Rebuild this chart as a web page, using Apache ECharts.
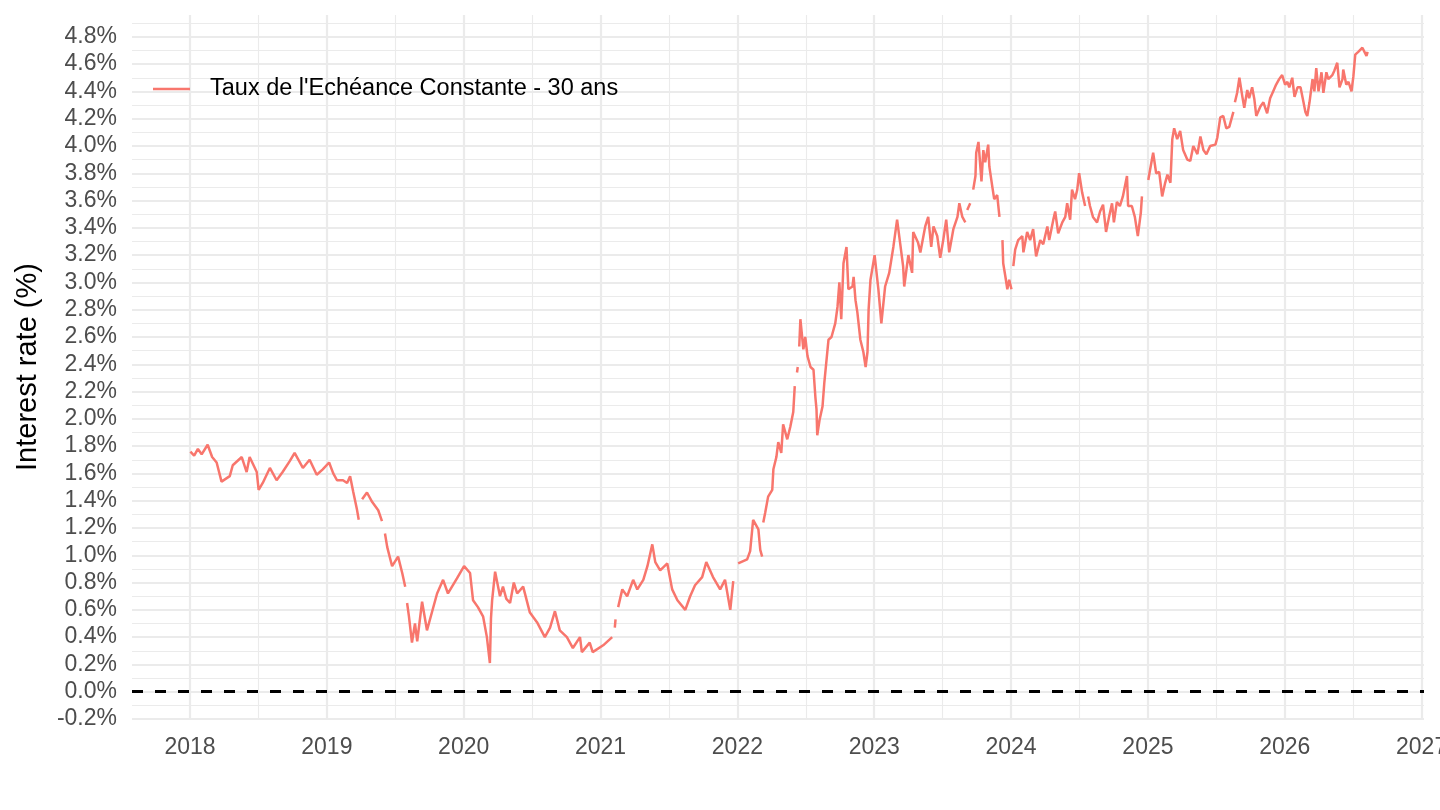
<!DOCTYPE html>
<html>
<head>
<meta charset="utf-8">
<title>Taux de l'Echéance Constante - 30 ans</title>
<script src="https://cdn.jsdelivr.net/npm/echarts@6/dist/echarts.min.js"></script>
<style>
  html, body { margin: 0; padding: 0; background: #fff; overflow: hidden; }
  #chart { width: 1440px; height: 810px; }
</style>
</head>
<body>
<div id="chart"></div>
<script>
// serie journaliere, null = jour manquant
var seriesName = "Taux de l'Echéance Constante - 30 ans";

var dates = [
    // 2018
    "2018-01-02", "2018-01-12", "2018-01-22", "2018-02-01", "2018-02-17", "2018-03-01", "2018-03-13", "2018-03-26",
    "2018-04-17", "2018-04-25", "2018-05-19", "2018-06-01", "2018-06-09", "2018-06-28", "2018-07-03", "2018-07-14",
    "2018-08-02", "2018-08-20", "2018-09-05", "2018-09-24", "2018-10-07", "2018-10-29", "2018-11-16", "2018-12-05",
    "2018-12-21",
    // 2019
    "2019-01-07", "2019-01-18", "2019-01-28", "2019-02-13", "2019-02-24", "2019-03-04", "2019-03-12", "2019-03-22",
    "2019-03-27", "2019-04-01", "2019-04-05", "2019-04-18", "2019-05-02", "2019-05-18", "2019-05-28", "2019-06-01",
    "2019-06-05", "2019-06-11", "2019-06-24", "2019-07-10", "2019-07-21", "2019-07-29", "2019-08-01", "2019-08-03",
    "2019-08-08", "2019-08-16", "2019-08-24", "2019-08-30", "2019-09-12", "2019-09-25", "2019-10-09", "2019-10-22",
    "2019-11-07", "2019-11-20", "2019-12-14",
    // 2020
    "2020-01-02", "2020-01-18", "2020-01-26", "2020-02-08", "2020-02-22", "2020-03-03", "2020-03-11", "2020-03-14",
    "2020-03-17", "2020-03-25", "2020-04-07", "2020-04-15", "2020-04-24", "2020-05-04", "2020-05-14", "2020-05-23",
    "2020-06-08", "2020-06-26", "2020-07-15", "2020-08-05", "2020-08-19", "2020-09-01", "2020-09-14", "2020-10-03",
    "2020-10-19", "2020-11-07", "2020-11-12", "2020-12-03", "2020-12-11",
    // 2021
    "2021-01-08", "2021-02-01", "2021-02-05", "2021-02-08", "2021-02-10", "2021-02-13", "2021-02-17", "2021-02-28",
    "2021-03-13", "2021-03-29", "2021-04-09", "2021-04-25", "2021-05-06", "2021-05-19", "2021-05-27", "2021-06-09",
    "2021-06-28", "2021-07-11", "2021-07-25", "2021-08-15", "2021-08-28", "2021-09-10", "2021-09-29", "2021-10-10",
    "2021-10-28", "2021-11-16", "2021-11-29", "2021-12-13", "2021-12-21", "2021-12-26",
    // 2022
    "2022-01-03", "2022-01-27", "2022-02-04", "2022-02-12", "2022-02-26", "2022-03-03", "2022-03-08", "2022-03-10",
    "2022-03-11", "2022-03-16", "2022-03-24", "2022-04-04", "2022-04-07", "2022-04-15", "2022-04-20", "2022-04-28",
    "2022-05-03", "2022-05-14", "2022-05-22", "2022-05-30", "2022-06-03", "2022-06-07", "2022-06-09", "2022-06-11",
    "2022-06-13", "2022-06-15", "2022-06-18", "2022-06-26", "2022-07-01", "2022-07-07", "2022-07-15", "2022-07-23",
    "2022-07-28", "2022-07-31", "2022-08-02", "2022-08-08", "2022-08-16", "2022-08-21", "2022-08-26", "2022-09-01",
    "2022-09-09", "2022-09-19", "2022-09-25", "2022-09-30", "2022-10-05", "2022-10-11", "2022-10-19", "2022-10-24",
    "2022-11-04", "2022-11-07", "2022-11-12", "2022-11-17", "2022-11-25", "2022-12-03", "2022-12-09", "2022-12-14",
    "2022-12-17", "2022-12-22",
    // 2023
    "2023-01-02", "2023-01-12", "2023-01-20", "2023-01-30", "2023-02-10", "2023-02-21", "2023-03-03", "2023-03-11",
    "2023-03-19", "2023-03-22", "2023-04-02", "2023-04-12", "2023-04-15", "2023-04-28", "2023-05-04", "2023-05-17",
    "2023-05-25", "2023-06-02", "2023-06-08", "2023-06-18", "2023-06-26", "2023-07-04", "2023-07-12", "2023-07-20",
    "2023-07-31", "2023-08-11", "2023-08-16", "2023-08-24", "2023-09-01", "2023-09-04", "2023-09-06", "2023-09-14",
    "2023-09-18", "2023-09-22", "2023-09-28", "2023-09-30", "2023-10-06", "2023-10-14", "2023-10-19", "2023-10-24",
    "2023-11-01", "2023-11-04", "2023-11-12", "2023-11-17", "2023-11-25", "2023-12-01", "2023-12-04", "2023-12-09",
    "2023-12-11", "2023-12-17", "2023-12-22", "2023-12-27",
    // 2024
    "2024-01-02", "2024-01-04", "2024-01-07", "2024-01-12", "2024-01-20", "2024-01-31", "2024-02-03", "2024-02-13",
    "2024-02-21", "2024-02-29", "2024-03-08", "2024-03-19", "2024-03-27", "2024-04-07", "2024-04-12", "2024-04-23",
    "2024-04-28", "2024-05-06", "2024-05-17", "2024-05-25", "2024-05-30", "2024-06-07", "2024-06-12", "2024-06-20",
    "2024-06-26", "2024-07-01", "2024-07-09", "2024-07-17", "2024-07-20", "2024-07-25", "2024-07-30", "2024-08-07",
    "2024-08-18", "2024-08-26", "2024-09-03", "2024-09-11", "2024-09-19", "2024-09-27", "2024-10-02", "2024-10-10",
    "2024-10-18", "2024-10-26", "2024-11-06", "2024-11-09", "2024-11-19", "2024-11-27", "2024-12-05", "2024-12-13",
    "2024-12-16", "2024-12-20",
    // 2025
    "2025-01-02", "2025-01-07", "2025-01-15", "2025-01-23", "2025-01-31", "2025-02-08", "2025-02-16", "2025-02-22",
    "2025-03-02", "2025-03-07", "2025-03-12", "2025-03-20", "2025-03-28", "2025-04-05", "2025-04-16", "2025-04-24",
    "2025-05-02", "2025-05-13", "2025-05-21", "2025-05-29", "2025-06-06", "2025-06-16", "2025-06-30", "2025-07-05",
    "2025-07-13", "2025-07-21", "2025-07-29", "2025-08-06", "2025-08-17", "2025-08-19", "2025-08-21", "2025-08-27",
    "2025-09-02", "2025-09-10", "2025-09-15", "2025-09-23", "2025-09-28", "2025-10-06", "2025-10-12", "2025-10-17",
    "2025-10-28", "2025-11-05", "2025-11-15", "2025-11-23", "2025-12-01", "2025-12-09", "2025-12-17", "2025-12-25",
    // 2026
    "2026-01-02", "2026-01-08", "2026-01-13", "2026-01-21", "2026-01-27", "2026-02-04", "2026-02-12", "2026-02-20",
    "2026-02-25", "2026-03-02", "2026-03-08", "2026-03-16", "2026-03-21", "2026-03-26", "2026-04-01", "2026-04-09",
    "2026-04-14", "2026-04-22", "2026-04-27", "2026-05-08", "2026-05-13", "2026-05-21", "2026-05-27", "2026-06-04",
    "2026-06-06", "2026-06-14", "2026-06-20", "2026-06-28", "2026-07-03", "2026-07-08", "2026-07-16", "2026-07-27",
    "2026-07-30", "2026-08-07", "2026-08-10"
];

var rates = [
    // 2018
    1.76, 1.73, 1.78, 1.74, 1.81, 1.72, 1.68, 1.54,
    1.58, 1.66, 1.72, 1.61, 1.72, 1.61, 1.48, 1.53,
    1.64, 1.55, 1.61, 1.69, 1.75, 1.64, 1.70, 1.59,
    1.63,
    // 2019
    1.68, 1.60, 1.55, 1.55, 1.53, 1.58, 1.47, 1.34,
    1.26, null, 1.41, 1.46, 1.39, 1.33, 1.25, null,
    1.16, 1.06, 0.92, 0.99, 0.87, 0.77, null, 0.65,
    0.55, 0.36, 0.50, 0.37, 0.66, 0.45, 0.59, 0.72,
    0.82, 0.72, 0.83,
    // 2020
    0.92, 0.87, 0.67, 0.62, 0.55, 0.40, 0.21, 0.54,
    0.67, 0.88, 0.70, 0.77, 0.68, 0.65, 0.80, 0.72,
    0.77, 0.58, 0.51, 0.40, 0.47, 0.59, 0.45, 0.40,
    0.32, 0.40, 0.29, 0.36, 0.29,
    // 2021
    0.34, 0.40, null, 0.47, 0.53, null, 0.62, 0.75,
    0.70, 0.82, 0.75, 0.82, 0.92, 1.08, 0.95, 0.89,
    0.94, 0.75, 0.67, 0.60, 0.70, 0.78, 0.84, 0.95,
    0.84, 0.75, 0.82, 0.60, 0.81, null,
    // 2022
    0.94, 0.97, 1.03, 1.26, 1.19, 1.04, 0.99, null,
    1.24, 1.31, 1.43, 1.48, 1.63, 1.72, 1.83, 1.75,
    1.96, 1.85, 1.94, 2.05, 2.24, null, 2.34, 2.38,
    null, 2.53, 2.73, 2.51, 2.60, 2.46, 2.38, 2.36,
    2.16, 2.07, 1.88, 1.99, 2.09, 2.27, 2.41, 2.58,
    2.60, 2.70, 2.82, 3.00, 2.73, 3.14, 3.26, 2.95,
    2.97, 3.04, 2.87, 2.78, 2.58, 2.49, 2.38, 2.49,
    2.80, 3.02,
    // 2023
    3.20, 2.95, 2.70, 2.97, 3.07, 3.26, 3.46, 3.29,
    3.12, 2.97, 3.20, 3.07, 3.37, 3.29, 3.22, 3.41,
    3.48, 3.26, 3.41, 3.34, 3.18, 3.31, 3.46, 3.22,
    3.39, 3.48, 3.58, 3.48, 3.44, null, 3.53, 3.58,
    null, 3.68, 3.78, 3.95, 4.03, 3.74, 3.97, 3.88,
    4.01, 3.85, 3.70, 3.61, 3.64, 3.48, null, 3.31,
    3.14, 3.04, 2.95, 3.02,
    // 2024
    2.95, null, 3.12, 3.24, 3.31, 3.34, 3.22, 3.37,
    3.31, 3.39, 3.19, 3.31, 3.28, 3.41, 3.31, 3.46,
    3.52, 3.36, 3.44, 3.48, 3.58, 3.46, 3.68, 3.61,
    3.68, 3.80, 3.66, 3.56, null, 3.63, 3.56, 3.48,
    3.44, 3.52, 3.57, 3.37, 3.48, 3.58, 3.44, 3.59,
    3.56, 3.63, 3.78, 3.56, 3.56, 3.48, 3.34, 3.51,
    3.63, null,
    // 2025
    3.75, 3.83, 3.95, 3.80, 3.81, 3.63, 3.73, 3.79,
    3.73, 4.05, 4.13, 4.05, 4.11, 3.97, 3.90, 3.89,
    4.00, 3.94, 4.07, 3.97, 3.94, 4.00, 4.01, 4.06,
    4.21, 4.22, 4.13, 4.14, 4.25, null, 4.32, 4.39,
    4.50, 4.36, 4.28, 4.41, 4.35, 4.43, 4.34, 4.22,
    4.29, 4.32, 4.24, 4.35, 4.40, 4.45, 4.49, 4.52,
    // 2026
    4.45, 4.47, 4.43, 4.50, 4.36, 4.43, 4.43, 4.32,
    4.25, 4.22, 4.32, 4.49, 4.40, 4.57, 4.40, 4.54,
    4.39, 4.54, 4.49, 4.52, 4.55, 4.61, 4.43, 4.49,
    4.56, 4.45, 4.47, 4.40, 4.51, 4.67, 4.69, 4.72,
    4.73, 4.66, 4.69
];

var zeroLine = [0];

// axe des x en annees decimales (comme une echelle Date lineaire)
function toYear(s) {
    var y = +s.slice(0, 4);
    var d = Date.UTC(y, +s.slice(5, 7) - 1, +s.slice(8, 10));
    var a = Date.UTC(y, 0, 1), b = Date.UTC(y + 1, 0, 1);
    return y + (d - a) / (b - a);
}

var seriesData = dates.map(function(d, i) {
    return [toYear(d), rates[i] == null ? '-' : rates[i]];
});

var font = '"Liberation Sans", Arial, Helvetica, sans-serif';
var gridColor = '#EBEBEB';

var dom = document.getElementById('chart');
var myChart = echarts.init(dom, null, { renderer: 'canvas' });

var option = {
    animation: false,
    backgroundColor: '#fff',
    textStyle: { fontFamily: font },
    grid: {
        left: 132,
        right: 16,
        top: 15,
        bottom: 91,
        containLabel: false,
        outerBoundsMode: 'none'
    },
    legend: {
        show: true,
        data: [seriesName],
        left: 153,
        top: 77,
        padding: 0,
        icon: 'rect',
        itemWidth: 37,
        itemHeight: 2.5,
        textStyle: {
            fontFamily: font,
            fontSize: 23.5,
            color: '#000',
            padding: [0, 0, 0, 15]
        }
    },
    xAxis: {
        type: 'value',
        min: 2017.576,
        max: 2027.0175,
        splitNumber: 10,
        minInterval: 1,
        maxInterval: 1,
        axisLine: { show: false },
        axisTick: { show: false },
        axisLabel: {
            showMinLabel: false,
            showMaxLabel: false,
            hideOverlap: false,
            margin: 17,
            color: '#4D4D4D',
            fontSize: 23,
            fontFamily: font,
            formatter: function(v) {
                return Math.abs(v - Math.round(v)) < 1e-6 ? String(Math.round(v)) : '';
            }
        },
        splitLine: {
            show: true,
            showMinLine: false,
            showMaxLine: false,
            lineStyle: { color: gridColor, width: 2.2 }
        },
        minorTick: { show: false, splitNumber: 2 },
        minorSplitLine: {
            show: true,
            lineStyle: { color: gridColor, width: 1.1 }
        }
    },
    yAxis: {
        type: 'value',
        min: -0.2,
        max: 4.96,
        interval: 0.2,
        name: 'Interest rate (%)',
        nameLocation: 'middle',
        nameGap: 90,
        nameTextStyle: {
            fontFamily: font,
            fontSize: 29,
            color: '#000'
        },
        axisLine: { show: false },
        axisTick: { show: false },
        axisLabel: {
            showMaxLabel: false,
            margin: 15,
            color: '#4D4D4D',
            fontSize: 23,
            fontFamily: font,
            formatter: function(v) {
                return (Math.round(v * 10) / 10).toFixed(1) + '%';
            }
        },
        splitLine: {
            show: true,
            showMaxLine: false,
            lineStyle: { color: gridColor, width: 2.2 }
        },
        minorTick: { show: false, splitNumber: 2 },
        minorSplitLine: {
            show: true,
            lineStyle: { color: gridColor, width: 1.1 }
        }
    },
    series: [{
        name: seriesName,
        type: 'line',
        data: seriesData,
        symbol: 'none',
        connectNulls: false,
        color: '#F8766D',
        lineStyle: { color: '#F8766D', width: 2.5 },
        markLine: {
            silent: true,
            symbol: ['none', 'none'],
            label: { show: false },
            lineStyle: { color: '#000', width: 3, type: [11, 12] },
            data: zeroLine.map(function(v) { return { yAxis: v }; })
        }
    }]
};

myChart.setOption(option);
window.addEventListener('resize', function() {
    myChart.resize();
});
</script>
</body>
</html>
